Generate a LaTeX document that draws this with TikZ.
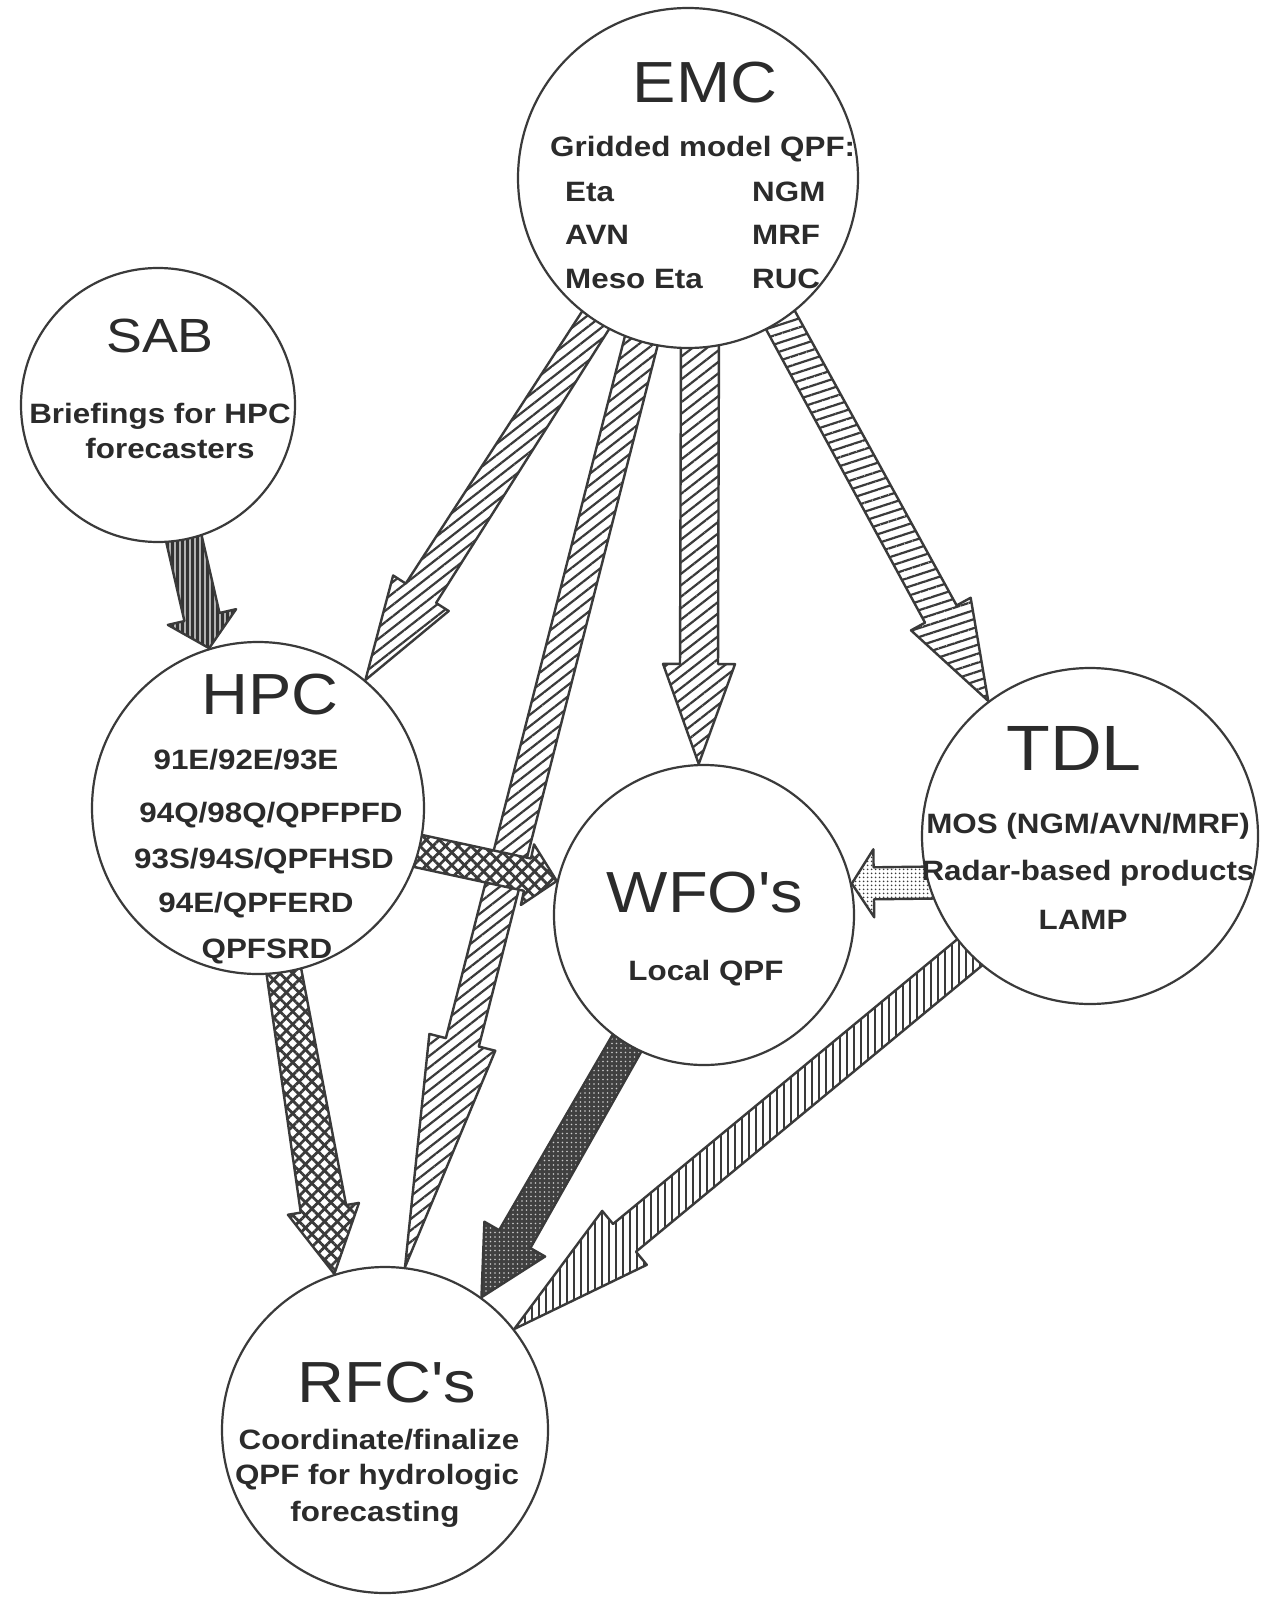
\documentclass[tikz,border=0pt]{standalone}
\usepackage{fontspec}
\setmainfont{Liberation Sans}[FakeStretch=1.12, Ligatures=TeXOff]
\usetikzlibrary{calc,patterns.meta}
\definecolor{ink}{HTML}{3A3A3A}
\definecolor{txt}{HTML}{2B2B2B}
\pgfdeclarelayer{bg}
\pgfdeclarelayer{arrowlayer}
\pgfsetlayers{bg,arrowlayer,main}
% #1 style, #2 tail anchor, #3 tip anchor, #4 tail half-width, #5 shaft half-width at head,
% #6 head half-width, #7 head length
\newcommand\blockarrow[7]{%
  \coordinate (ba-t) at (#2);
  \coordinate (ba-h) at (#3);
  \coordinate (ba-s) at ($(ba-t)!-25pt!(ba-h)$);
  \coordinate (ba-b) at ($(ba-h)!#7!(ba-t)$);
  \path[#1] ($(ba-s)!#4!90:(ba-h)$) -- ($(ba-b)!#5!90:(ba-h)$) -- ($(ba-b)!#6!90:(ba-h)$)
    -- (ba-h) -- ($(ba-b)!#6!-90:(ba-h)$) -- ($(ba-b)!#5!-90:(ba-h)$)
    -- ($(ba-s)!#4!-90:(ba-h)$) -- cycle;
}
\begin{document}
\begin{tikzpicture}[x=1pt,y=-1pt,
  bubble/.style={circle, draw=ink, line width=2.2pt, fill=white, inner sep=0pt},
  ar/.style={draw=ink, line width=2.4pt, line join=round},
  hatchD/.style={ar, preaction={fill=white}, pattern={Lines[angle=38,distance=9pt,line width=2.2pt]}, pattern color=ink},
  hatchH/.style={ar, preaction={fill=white}, pattern={Lines[angle=18,distance=8.5pt,line width=2.2pt]}, pattern color=ink},
  hatchV/.style={ar, preaction={fill=white}, pattern={Lines[angle=90,distance=7pt,line width=2pt]}, pattern color=ink},
  cross/.style={ar, preaction={fill=white}, preaction={pattern={Lines[angle=45,distance=9pt,line width=2.8pt]}, pattern color=ink}, pattern={Lines[angle=-45,distance=9pt,line width=2.8pt]}, pattern color=ink},
  darkV/.style={ar, preaction={fill=black!80}, pattern={Lines[angle=90,distance=5pt,line width=1.1pt]}, pattern color=white!70!black},
  dotsL/.style={ar, preaction={fill=white}, pattern={Dots[distance=4pt,radius=1.1pt]}, pattern color=ink},
  dotsD/.style={ar, preaction={fill=black!75}, pattern={Dots[distance=4.5pt,radius=0.9pt]}, pattern color=white!80!black},
  small/.style={font=\bfseries\fontsize{28}{32}\selectfont, text=txt, inner sep=0pt, text height=20pt, text depth=0pt},
  titleL/.style={font=\fontsize{58}{62}\selectfont, text=txt, inner sep=0pt, text height=41.5pt, text depth=0pt},
  titleX/.style={font=\fontsize{64}{68}\selectfont, text=txt, inner sep=0pt, text height=45.8pt, text depth=0pt},
  titleS/.style={font=\fontsize{48}{52}\selectfont, text=txt, inner sep=0pt, text height=34.4pt, text depth=0pt}
]
\begin{pgfonlayer}{bg}
\fill[white] (0,0) rectangle (1262,1597);
\end{pgfonlayer}
\useasboundingbox (0,0) rectangle (1262,1597);

% circles
\node[bubble, minimum size=340pt] (EMC) at (688,178) {};
\node[bubble, minimum size=274pt] (SAB) at (158,405) {};
\node[bubble, minimum size=332pt] (HPC) at (258,808) {};
\node[bubble, minimum size=300pt] (WFO) at (704,915) {};
\node[bubble, minimum size=336pt] (TDL) at (1090,836) {};
\node[bubble, minimum size=326pt] (RFC) at (385,1430) {};

% arrows
\begin{pgfonlayer}{arrowlayer}
\blockarrow{darkV}{SAB.281}{HPC.107}{18pt}{18pt}{35pt}{32pt}
\blockarrow{hatchD}{EMC.237}{HPC.50}{16pt}{18pt}{33pt}{103pt}
\blockarrow{hatchD}{EMC.254}{RFC.83}{17pt}{17pt}{34pt}{232pt}
\blockarrow{hatchD}{EMC.274}{WFO.92}{19pt}{19pt}{36pt}{100pt}
\blockarrow{hatchH}{EMC.303}{TDL.127}{17pt}{18pt}{34pt}{99pt}
\blockarrow{hatchV}{TDL.224}{RFC.38}{18pt}{18pt}{35pt}{143pt}
\blockarrow{dotsD}{WFO.239}{RFC.54}{16.5pt}{18pt}{35pt}{67pt}
\blockarrow{cross}{HPC.279}{RFC.108}{17pt}{23pt}{36pt}{66pt}
\blockarrow{dotsL}{TDL.196}{WFO.12}{16pt}{16pt}{34pt}{22pt}
\blockarrow{cross}{HPC.345}{WFO.167}{16.5pt}{16.5pt}{31pt}{30pt}
\end{pgfonlayer}

% EMC texts
\node[titleL] (emcT) at (705,82) {EMC};
\node[small, anchor=west] (emcH) at (550,147) {Gridded model QPF:};
\node[small, anchor=west] (emc1) at (565,192) {Eta};
\node[small, anchor=west] (emc2) at (565,235) {AVN};
\node[small, anchor=west] (emc3) at (565,278) {Meso Eta};
\node[small, anchor=west] (emc4) at (752,192) {NGM};
\node[small, anchor=west] (emc5) at (752,235) {MRF};
\node[small, anchor=west] (emc6) at (752,278) {RUC};

% SAB texts
\node[titleS] (sabT) at (160,335) {SAB};
\node[small] (sab1) at (160,413) {Briefings for HPC};
\node[small] (sab2) at (170,448) {forecasters};

% HPC texts
\node[titleL] (hpcT) at (270,694) {HPC};
\node[small] (hpc1) at (246,759) {91E/92E/93E};
\node[small] (hpc2) at (271,812) {94Q/98Q/QPFPFD};
\node[small] (hpc3) at (264,858) {93S/94S/QPFHSD};
\node[small] (hpc4) at (256,902) {94E/QPFERD};
\node[small] (hpc5) at (267,948) {QPFSRD};

% WFO texts
\node[titleL] (wfoT) at (705,892) {WFO's};
\node[small] (wfo1) at (706,970) {Local QPF};

% TDL texts
\node[titleX] (tdlT) at (1074,748) {TDL};
\node[small] (tdl1) at (1088,823) {MOS (NGM/AVN/MRF)};
\node[small] (tdl2) at (1088,870) {Radar-based products};
\node[small] (tdl3) at (1083,919) {LAMP};

% RFC texts
\node[titleL] (rfcT) at (387,1382) {RFC's};
\node[small] (rfc1) at (379,1439) {Coordinate/finalize};
\node[small] (rfc2) at (377,1474) {QPF for hydrologic};
\node[small] (rfc3) at (375,1511) {forecasting};
\end{tikzpicture}
\end{document}
